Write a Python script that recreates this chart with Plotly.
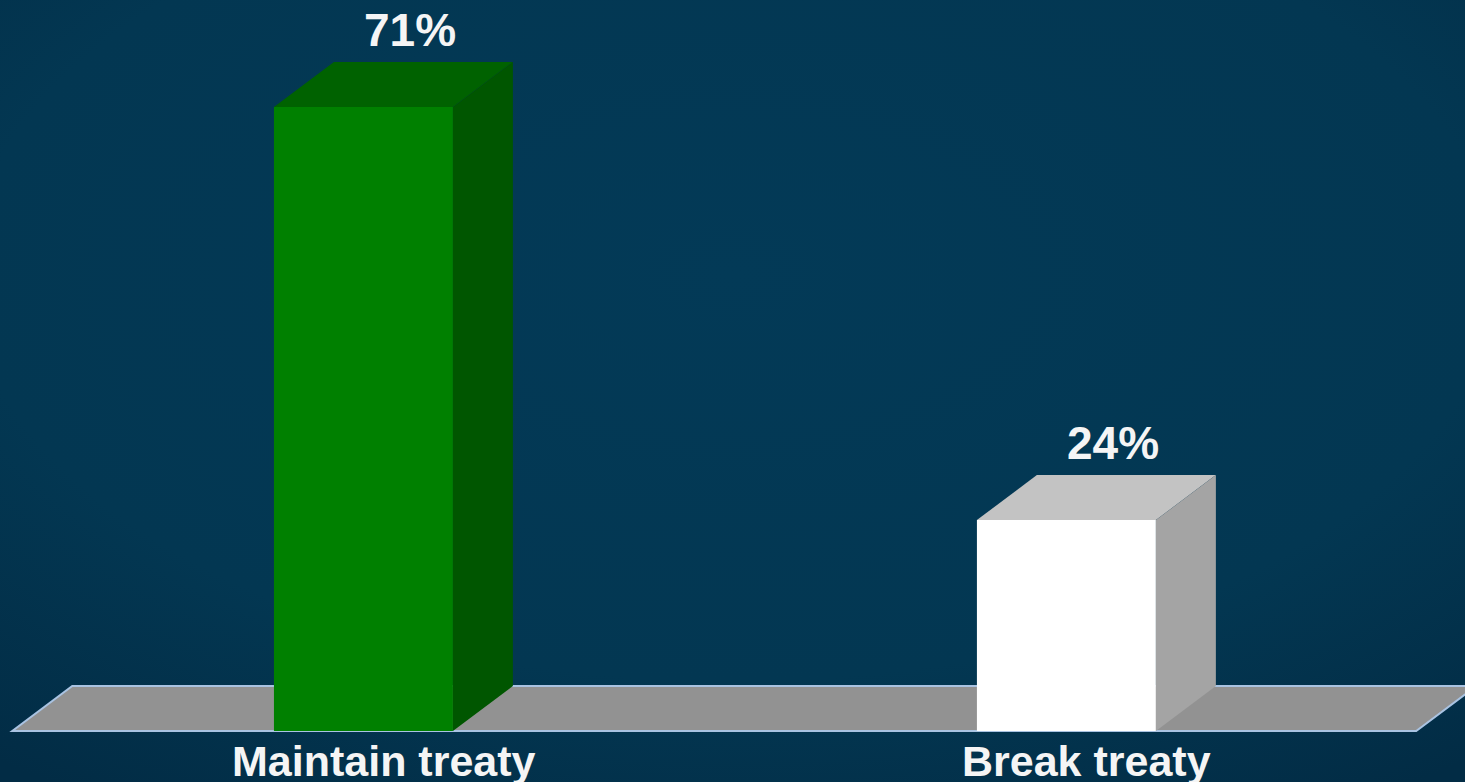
import plotly.graph_objects as go
import base64

categories = ["Maintain treaty", "Break treaty"]
values = [71, 24]
value_labels = ["71%", "24%"]
front_colors = ["#008000", "#ffffff"]
top_colors = ["#006200", "#c3c3c3"]
side_colors = ["#005600", "#a4a4a4"]

# geometry in axis units
BW = 0.2546      # bar width
DX = 0.0853      # depth offset x
DY = 5.12        # depth offset y (value units)
X_RANGE = [-0.517, 1.567]
Y_RANGE = [-5.80, 83.16]

fig = go.Figure()

# floor (drawn below all traces)
fl_x0, fl_x1 = -0.4995, 1.4976
floor_path = (f"M {fl_x0},0 L {fl_x1},0 L {fl_x1 + DX},{DY} "
              f"L {fl_x0 + DX},{DY} Z")
fig.add_shape(type="path", path=floor_path, xref="x", yref="y", layer="below",
              fillcolor="#929292", line=dict(color="#a9c3e2", width=2))

for i, (cat, v) in enumerate(zip(categories, values)):
    xl, xr = i - BW / 2, i + BW / 2
    # front face
    fig.add_trace(go.Bar(x=[i], y=[v], width=BW, marker=dict(color=front_colors[i], line=dict(width=0)),
                         showlegend=False, hoverinfo="skip"))
    # top face
    fig.add_trace(go.Scatter(x=[xl, xr, xr + DX, xl + DX, xl], y=[v, v, v + DY, v + DY, v],
                             fill="toself", fillcolor=top_colors[i], mode="lines",
                             line=dict(width=0, color=top_colors[i]), hoverinfo="skip", showlegend=False))
    # side face
    fig.add_trace(go.Scatter(x=[xr, xr + DX, xr + DX, xr, xr], y=[0, DY, v + DY, v, 0],
                             fill="toself", fillcolor=side_colors[i], mode="lines",
                             line=dict(width=0, color=side_colors[i]), hoverinfo="skip", showlegend=False))
    fig.add_annotation(x=i + 0.066, y=v + DY + 3.6, text=f"<b>{value_labels[i]}</b>", showarrow=False,
                       font=dict(family="Liberation Sans, Arial, sans-serif", size=46, color="#f5f5f5"),
                       xanchor="center", yanchor="middle")
    fig.add_annotation(x=i + 0.029, y=-3.4, text=f"<b>{cat}</b>", showarrow=False,
                       font=dict(family="Liberation Sans, Arial, sans-serif", size=43, color="#f5f5f5"),
                       xanchor="center", yanchor="middle")

svg = """<svg xmlns='http://www.w3.org/2000/svg' width='1465' height='782'>
<defs>
<radialGradient id='g' cx='50%' cy='35%' r='80%'>
<stop offset='0%' stop-color='#033a57'/>
<stop offset='65%' stop-color='#033752'/>
<stop offset='100%' stop-color='#022c45'/>
</radialGradient>
</defs>
<rect width='1465' height='782' fill='url(#g)'/>
</svg>"""
src = "data:image/svg+xml;base64," + base64.b64encode(svg.encode()).decode()
fig.add_layout_image(dict(source=src, xref="paper", yref="paper", x=0, y=1, sizex=1, sizey=1,
                          sizing="stretch", layer="below", xanchor="left", yanchor="top"))

fig.update_layout(
    width=1465, height=782,
    margin=dict(l=0, r=0, t=0, b=0),
    paper_bgcolor="#033650", plot_bgcolor="rgba(0,0,0,0)",
    xaxis=dict(range=X_RANGE, visible=False, fixedrange=True),
    yaxis=dict(range=Y_RANGE, visible=False, fixedrange=True),
    barmode="overlay",
)
fig.write_html("out.html", config={"displayModeBar": False},
               post_script="document.body.style.margin='0';document.body.style.overflow='hidden';")
